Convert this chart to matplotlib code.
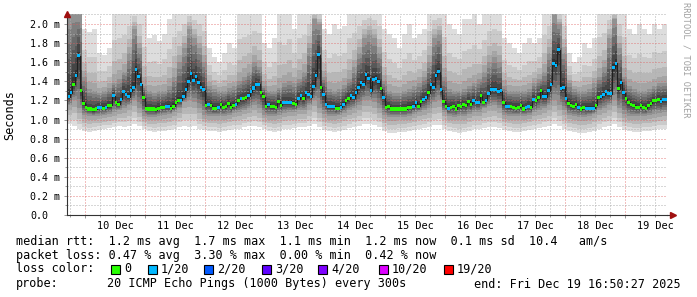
import numpy as np
import matplotlib
matplotlib.use("Agg")
import matplotlib.pyplot as plt
import matplotlib.dates as mdates
from matplotlib.ticker import MultipleLocator, FuncFormatter
from matplotlib.patches import Rectangle
from datetime import datetime, timedelta

W, H, DPI = 697, 297, 100

start = datetime(2025, 12, 9, 16, 50, 27)
end = datetime(2025, 12, 19, 16, 50, 27)

# hourly median rtt (ms)
median = [
    1.24, 1.28, 1.37, 1.46, 1.67, 1.30, 1.17, 1.13, 1.11, 1.11, 1.10, 1.11,
    1.13, 1.13, 1.12, 1.13, 1.15, 1.15, 1.25, 1.18, 1.16, 1.21, 1.29, 1.26,
    1.24, 1.30, 1.34, 1.52, 1.45, 1.37, 1.23, 1.12, 1.11, 1.11, 1.11, 1.10,
    1.12, 1.13, 1.13, 1.14, 1.14, 1.12, 1.14, 1.18, 1.20, 1.20, 1.24, 1.31,
    1.40, 1.48, 1.41, 1.45, 1.39, 1.34, 1.31, 1.15, 1.16, 1.15, 1.12, 1.12,
    1.13, 1.16, 1.13, 1.14, 1.17, 1.13, 1.15, 1.16, 1.20, 1.22, 1.22, 1.23,
    1.25, 1.29, 1.33, 1.37, 1.37, 1.28, 1.24, 1.14, 1.16, 1.14, 1.14, 1.13,
    1.19, 1.15, 1.18, 1.18, 1.18, 1.18, 1.17, 1.16, 1.22, 1.25, 1.22, 1.28,
    1.26, 1.24, 1.35, 1.46, 1.68, 1.34, 1.26, 1.16, 1.14, 1.14, 1.14, 1.12,
    1.12, 1.13, 1.16, 1.20, 1.22, 1.25, 1.23, 1.28, 1.34, 1.39, 1.37, 1.47,
    1.43, 1.30, 1.42, 1.43, 1.40, 1.32, 1.23, 1.13, 1.14, 1.11, 1.11, 1.11,
    1.11, 1.11, 1.11, 1.11, 1.13, 1.13, 1.14, 1.18, 1.14, 1.19, 1.21, 1.23,
    1.28, 1.37, 1.34, 1.46, 1.50, 1.31, 1.19, 1.14, 1.12, 1.13, 1.14, 1.11,
    1.15, 1.14, 1.16, 1.15, 1.19, 1.16, 1.20, 1.18, 1.18, 1.25, 1.18, 1.20,
    1.27, 1.31, 1.31, 1.31, 1.29, 1.30, 1.18, 1.14, 1.14, 1.14, 1.13, 1.12,
    1.13, 1.15, 1.11, 1.13, 1.14, 1.13, 1.21, 1.20, 1.23, 1.30, 1.24, 1.24,
    1.30, 1.37, 1.59, 1.57, 1.73, 1.32, 1.34, 1.22, 1.17, 1.15, 1.14, 1.16,
    1.13, 1.11, 1.13, 1.12, 1.12, 1.12, 1.12, 1.15, 1.23, 1.24, 1.26, 1.29,
    1.27, 1.27, 1.54, 1.59, 1.32, 1.39, 1.28, 1.22, 1.18, 1.16, 1.15, 1.13,
    1.13, 1.15, 1.13, 1.12, 1.15, 1.17, 1.20, 1.20, 1.21, 1.19, 1.21, 1.21,
]

# hourly loss class: 0 -> no loss, 1 -> 1/20
loss = [
    1, 1, 0, 1, 1, 0, 0, 0, 0, 0, 0, 0,
    1, 1, 0, 1, 0, 0, 1, 0, 0, 1, 1, 1,
    1, 1, 1, 1, 1, 1, 0, 0, 0, 0, 0, 0,
    0, 0, 0, 1, 1, 0, 0, 0, 0, 1, 1, 1,
    1, 1, 1, 1, 1, 1, 1, 0, 1, 0, 0, 0,
    1, 0, 0, 0, 0, 0, 0, 1, 0, 1, 0, 0,
    1, 1, 1, 1, 1, 0, 0, 0, 1, 0, 0, 0,
    0, 0, 1, 1, 1, 1, 0, 0, 1, 1, 0, 1,
    1, 1, 1, 1, 1, 0, 1, 1, 1, 1, 1, 0,
    0, 1, 1, 0, 0, 1, 1, 1, 1, 1, 1, 1,
    1, 1, 1, 1, 1, 0, 1, 0, 0, 0, 0, 0,
    0, 0, 0, 0, 0, 0, 1, 1, 0, 0, 1, 1,
    0, 1, 1, 1, 1, 1, 0, 0, 1, 0, 0, 0,
    0, 0, 0, 0, 0, 0, 1, 1, 1, 0, 0, 1,
    1, 1, 1, 1, 1, 1, 0, 1, 1, 0, 0, 0,
    0, 0, 0, 1, 1, 0, 1, 0, 0, 0, 1, 1,
    1, 1, 1, 1, 1, 1, 1, 1, 0, 0, 0, 0,
    1, 0, 0, 1, 1, 1, 1, 0, 0, 1, 1, 1,
    1, 1, 1, 1, 0, 1, 1, 0, 0, 0, 0, 0,
    0, 0, 0, 0, 0, 0, 0, 0, 0, 1, 1, 1,
]

# smoke envelope, two-hour blocks (ms): slowest ping, 16th ping, 5th ping, fastest ping
smoke_max = [
    2.2, 2.2, 2.2, 1.95, 1.92, 1.95, 1.70, 1.68, 1.75, 2.2,
    2.2, 2.2, 2.2, 2.2, 2.2, 2.1, 1.85, 1.88, 1.82, 1.9,
    2.05, 2.2, 2.2, 2.2, 2.2, 2.2, 2.2, 2.2, 1.75, 1.65,
    1.6, 1.7, 1.8, 1.75, 2.2, 2.2, 2.2, 2.2, 2.2, 1.8,
    1.75, 1.85, 2.2, 2.1, 2.2, 1.95, 2.2, 2.2, 2.2, 2.2,
    2.2, 1.95, 1.9, 2.0, 1.95, 1.98, 2.2, 2.2, 2.2, 2.2,
    2.2, 2.2, 2.2, 1.95, 1.9, 1.85, 1.75, 1.9, 2.0, 1.85,
    1.9, 1.95, 2.2, 2.2, 2.2, 2.2, 2.0, 1.95, 1.9, 2.05,
    2.05, 2.1, 2.0, 2.1, 2.2, 2.2, 2.2, 1.85, 1.8, 1.75,
    1.7, 1.8, 1.85, 1.8, 1.85, 2.2, 2.2, 2.2, 2.2, 2.2,
    1.7, 1.6, 1.65, 1.8, 1.75, 1.85, 2.2, 2.2, 2.2, 2.2,
    2.2, 2.2, 1.95, 1.9, 2.0, 1.95, 1.9, 2.0, 1.95, 2.0,
]
smoke_hi = [
    2.1, 2.15, 2.1, 1.45, 1.32, 1.3, 1.28, 1.3, 1.33, 1.38,
    1.42, 1.5, 1.7, 1.95, 1.75, 1.35, 1.3, 1.28, 1.3, 1.3,
    1.35, 1.45, 1.6, 1.75, 1.95, 1.85, 1.75, 1.6, 1.35, 1.32,
    1.3, 1.3, 1.33, 1.35, 1.4, 1.45, 1.5, 1.6, 1.55, 1.35,
    1.3, 1.3, 1.33, 1.38, 1.4, 1.38, 1.42, 1.5, 1.75, 2.05,
    2.0, 1.45, 1.32, 1.3, 1.32, 1.36, 1.42, 1.55, 1.7, 1.85,
    1.9, 1.85, 1.7, 1.4, 1.3, 1.28, 1.28, 1.3, 1.32, 1.35,
    1.38, 1.45, 1.6, 1.85, 1.9, 1.45, 1.32, 1.3, 1.3, 1.32,
    1.35, 1.38, 1.42, 1.5, 1.6, 1.65, 1.6, 1.35, 1.3, 1.3,
    1.3, 1.3, 1.32, 1.38, 1.42, 1.5, 1.7, 2.1, 2.0, 1.7,
    1.38, 1.32, 1.3, 1.3, 1.32, 1.38, 1.45, 1.55, 1.85, 2.05,
    1.75, 1.45, 1.35, 1.32, 1.3, 1.3, 1.32, 1.35, 1.38, 1.38,
]
smoke_lo = [
    1.15, 1.2, 1.12, 1.05, 1.04, 1.04, 1.04, 1.05, 1.06, 1.08,
    1.1, 1.12, 1.15, 1.2, 1.12, 1.04, 1.03, 1.03, 1.04, 1.05,
    1.06, 1.08, 1.12, 1.18, 1.2, 1.18, 1.12, 1.05, 1.04, 1.04,
    1.04, 1.04, 1.05, 1.07, 1.08, 1.1, 1.12, 1.15, 1.12, 1.05,
    1.04, 1.04, 1.05, 1.07, 1.08, 1.08, 1.1, 1.1, 1.15, 1.2,
    1.12, 1.06, 1.04, 1.04, 1.05, 1.07, 1.1, 1.12, 1.15, 1.2,
    1.2, 1.18, 1.12, 1.05, 1.03, 1.03, 1.03, 1.03, 1.04, 1.06,
    1.08, 1.1, 1.12, 1.18, 1.2, 1.08, 1.04, 1.03, 1.04, 1.04,
    1.06, 1.08, 1.08, 1.12, 1.14, 1.15, 1.12, 1.05, 1.04, 1.04,
    1.04, 1.04, 1.05, 1.08, 1.1, 1.12, 1.15, 1.2, 1.15, 1.1,
    1.05, 1.04, 1.03, 1.03, 1.04, 1.06, 1.1, 1.12, 1.15, 1.2,
    1.12, 1.06, 1.04, 1.04, 1.04, 1.04, 1.05, 1.06, 1.07, 1.08,
]
smoke_min = [
    0.95, 0.93, 0.9, 0.88, 0.87, 0.88, 0.89, 0.9, 0.91, 0.92,
    0.93, 0.92, 0.93, 0.95, 0.93, 0.9, 0.88, 0.87, 0.88, 0.88,
    0.89, 0.9, 0.92, 0.93, 0.92, 0.93, 0.9, 0.89, 0.88, 0.88,
    0.87, 0.88, 0.89, 0.9, 0.9, 0.92, 0.93, 0.93, 0.92, 0.9,
    0.88, 0.87, 0.88, 0.9, 0.9, 0.91, 0.92, 0.92, 0.93, 0.95,
    0.92, 0.89, 0.88, 0.87, 0.88, 0.89, 0.91, 0.92, 0.93, 0.95,
    0.95, 0.94, 0.92, 0.88, 0.86, 0.86, 0.87, 0.87, 0.88, 0.89,
    0.9, 0.91, 0.92, 0.94, 0.94, 0.9, 0.88, 0.87, 0.86, 0.87,
    0.88, 0.9, 0.9, 0.91, 0.92, 0.92, 0.91, 0.89, 0.88, 0.87,
    0.87, 0.88, 0.89, 0.9, 0.91, 0.92, 0.93, 0.95, 0.93, 0.9,
    0.88, 0.87, 0.86, 0.86, 0.87, 0.88, 0.9, 0.92, 0.93, 0.95,
    0.92, 0.89, 0.88, 0.87, 0.87, 0.88, 0.88, 0.89, 0.9, 0.9,
]

loss_labels = ["0", "1/20", "2/20", "3/20", "4/20", "10/20", "19/20"]
loss_colors = ["#26ff00", "#00b8ff", "#0059ff", "#5e00ff", "#7e00ff", "#dd00ff", "#ff0000"]

legend_rtt = "median rtt:  1.2 ms avg  1.7 ms max  1.1 ms min  1.2 ms now  0.1 ms sd  10.4   am/s"
legend_loss = "packet loss: 0.47 % avg  3.30 % max  0.00 % min  0.42 % now"
probe_text = "20 ICMP Echo Pings (1000 Bytes) every 300s"
end_text = "end: Fri Dec 19 16:50:27 2025"

MONO = "DejaVu Sans Mono"

fig = plt.figure(figsize=(W / DPI, H / DPI), dpi=DPI)
fig.patch.set_facecolor("white")
ax = fig.add_axes([67 / W, 1 - 215 / H, 600 / W, 201 / H])
ax.set_facecolor("white")

n = len(median)
t = [mdates.date2num(start + timedelta(hours=i)) for i in range(n + 1)]
med = np.array(median)
med_ext = np.append(med, med[-1])

# expand block anchors to hourly and build the 20 sorted pings per hour
hourly = lambda a: np.repeat(np.array(a), 2)
pmax, phi, plo, pmin = hourly(smoke_max), hourly(smoke_hi), hourly(smoke_lo), hourly(smoke_min)
ks = np.arange(1, 21)
pings = np.zeros((n, 20))
for i in range(n):
    m = med[i]
    hi = max(phi[i], m)
    lo = min(plo[i], m)
    top = max(pmax[i], hi)
    up = np.interp(ks, [10.5, 16, 17, 18, 19, 20],
                   [m, hi, hi + 0.12 * (top - hi), hi + 0.28 * (top - hi), hi + 0.55 * (top - hi), top])
    down = np.interp(ks, [1, 5, 10.5], [pmin[i], lo, m])
    pings[i] = np.where(ks <= 10, down, up)

for b in range(10):
    g = int(190 / 10 * (10 - (b + 1))) + 50
    col = "#%02x%02x%02x" % (g, g, g)
    lower = np.append(pings[:, b], pings[-1, b])
    upper = np.append(pings[:, 19 - b], pings[-1, 19 - b])
    ax.fill_between(t, lower, upper, step="post", color=col, linewidth=0, zorder=1)

# grid over the smoke
ax.set_ylim(0, 2.105)
ax.set_xlim(t[0], t[-1])
ax.yaxis.set_major_locator(MultipleLocator(0.2))
ax.yaxis.set_minor_locator(MultipleLocator(0.1))
ax.xaxis.set_major_locator(mdates.DayLocator())
ax.xaxis.set_minor_locator(mdates.HourLocator(byhour=[0, 6, 12, 18]))
ax.xaxis.set_major_formatter(FuncFormatter(lambda v, p: ""))
ax.xaxis.set_minor_formatter(FuncFormatter(
    lambda v, p: mdates.num2date(v).strftime("%d %b") if mdates.num2date(v).hour == 12 else ""))
ax.yaxis.set_major_formatter(FuncFormatter(lambda v, p: "0.0" if abs(v) < 1e-9 else "%.1f m" % v))
dot = (0, (1, 2))
ax.grid(which="minor", color="#b0b0b0", linestyle=dot, linewidth=0.72, zorder=2)
ax.grid(which="major", color="#e06060", linestyle=dot, linewidth=0.72, alpha=0.8, zorder=2)
ax.set_axisbelow(False)

# median line and loss coloured marks
ax.step(t, med_ext, where="post", color="#202020", linewidth=0.8, zorder=4)
sw = 0.016
lossa = np.array(loss)
width = 1 / 24
for c, col in enumerate(loss_colors):
    mask = lossa == c
    if not mask.any():
        continue
    ax.bar(np.array(t[:-1])[mask], 2 * sw, bottom=med[mask] - sw, width=width, align="edge",
           color=col, linewidth=0, zorder=5)

for s in ["top", "right"]:
    ax.spines[s].set_visible(False)
for s in ["left", "bottom"]:
    ax.spines[s].set_color("#333333")
    ax.spines[s].set_linewidth(0.8)
    ax.spines[s].set_zorder(6)

ax.tick_params(axis="both", which="both", direction="out", color="#999999", width=0.7)
ax.tick_params(axis="x", which="major", length=2.5)
ax.tick_params(axis="x", which="minor", length=1.5, pad=3, labelsize=7.4)
ax.tick_params(axis="y", which="major", length=2, pad=24.5, labelsize=7.2)
ax.tick_params(axis="y", which="minor", length=1.5)
for lab in ax.get_yticklabels():
    lab.set_horizontalalignment("left")
    lab.set_fontfamily(MONO)
for lab in ax.get_xticklabels(which="minor"):
    lab.set_fontfamily(MONO)

# axis arrows
ax.plot([0], [1.0], marker="^", markersize=4, color="#a01010", transform=ax.transAxes, clip_on=False, zorder=7)
ax.plot([1.01], [0], marker=">", markersize=4, color="#a01010", transform=ax.transAxes, clip_on=False, zorder=7)
ax.plot([1.0, 1.01], [0, 0], color="#333333", linewidth=0.8, transform=ax.transAxes, clip_on=False)

def ftext(x, y, s, **kw):
    kw.setdefault("fontfamily", MONO)
    kw.setdefault("fontsize", 8.5)
    kw.setdefault("va", "center")
    fig.text(x / W, 1 - y / H, s, **kw)

ftext(10, 115, "Seconds", rotation=90, ha="center")
ftext(686, 60, "RRDTOOL / TOBI OETIKER", rotation=270, ha="center", fontsize=6.2, color="#a0a0a0")

ftext(16, 241, legend_rtt)
ftext(16, 255, legend_loss)
ftext(16, 269, "loss color:")
label_x = [124, 161, 217, 275, 331, 392, 457]
for lx, lab, col in zip(label_x, loss_labels, loss_colors):
    fig.patches.append(Rectangle(((lx - 13) / W, 1 - 274 / H), 9 / W, 9 / H, transform=fig.transFigure,
                                 facecolor=col, edgecolor="black", linewidth=0.8))
    ftext(lx, 269, lab)
ftext(16, 284, "probe:")
ftext(107, 284, probe_text)
ftext(681, 284, end_text, ha="right")

fig.savefig("out.png", dpi=DPI, facecolor="white")
